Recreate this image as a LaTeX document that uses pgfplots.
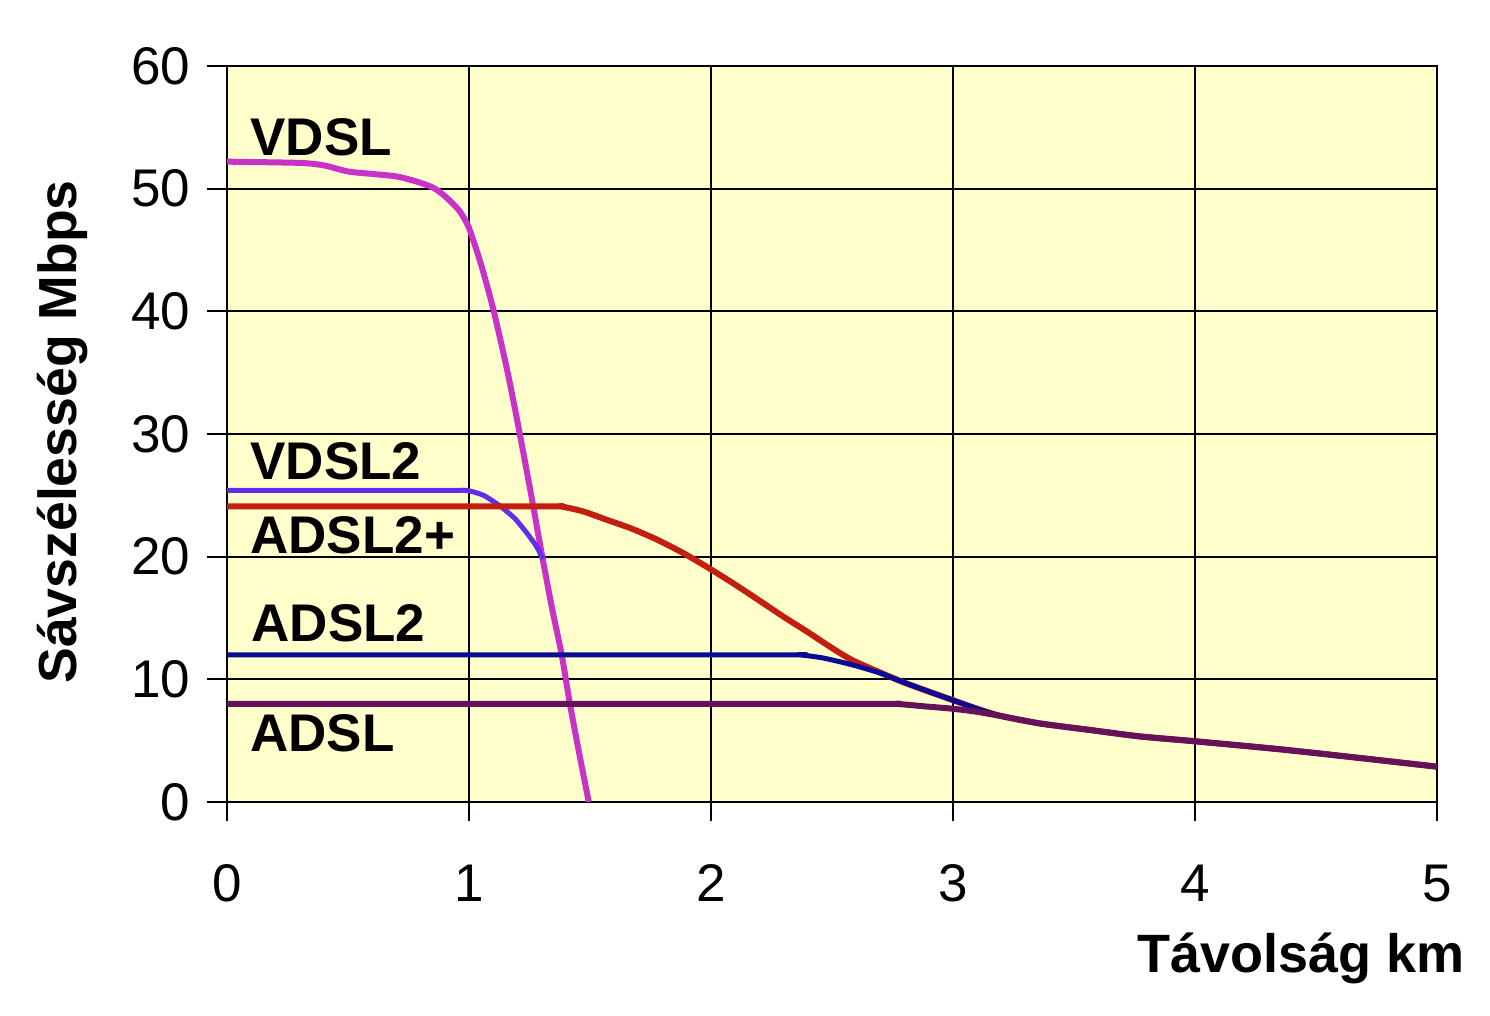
\documentclass[border=0pt]{standalone}
\usepackage{pgfplots}
\pgfplotsset{compat=1.18}
\usepackage{fontspec}
\setmainfont{Liberation Sans}
\definecolor{bgyellow}{RGB}{255,255,204}
\definecolor{cvdsl}{RGB}{200,50,200}
\definecolor{cvdsltwo}{RGB}{100,45,235}
\definecolor{cadsltwoplus}{RGB}{195,30,15}
\definecolor{cadsltwo}{RGB}{10,10,150}
\definecolor{cadsl}{RGB}{100,18,90}
\newcommand{\bigfont}{\fontsize{26.5}{30}\selectfont}
\begin{document}
\begin{tikzpicture}
\path[use as bounding box] (0,0) rectangle (745pt,508pt);
\begin{axis}[
  at={(113.5pt,107pt)}, anchor=south west,
  scale only axis, width=605pt, height=368pt,
  xmin=0, xmax=5, ymin=0, ymax=60,
  xtick={0,1,2,3,4,5}, ytick={0,10,20,30,40,50,60},
  tick pos=left, tick align=outside, major tick length=9.75pt,
  tick style={black, line width=1pt},
  grid=major, major grid style={black, line width=1pt},
  axis line style={black, line width=1pt},
  axis background/.style={fill=bgyellow},
  ticklabel style={font=\bigfont},
  /pgf/number format/assume math mode=true,
  xticklabel style={anchor=north, yshift=-18pt},
  yticklabel style={anchor=east, xshift=-5pt},
  every axis plot/.append style={line width=3pt, line join=round, line cap=butt},
]
\addplot[cvdsl, smooth, tension=0.4] coordinates {
(0,52.2) (0.3,52.1) (0.4,51.9) (0.5,51.4) (0.6,51.2) (0.7,51.0) (0.78,50.6)
(0.85,50.1) (0.9,49.4) (0.96,48.2) (1.0,46.8) (1.05,43.8) (1.10,40.2)
(1.16,35.0) (1.21,30.0) (1.26,24.7) (1.30,20.3) (1.342,15.9) (1.383,12.0)
(1.417,8.0) (1.455,4.0) (1.495,0)
};
\addplot[cvdsltwo, line width=2.5pt, smooth, tension=0.4] coordinates {
(0,25.4) (0.9,25.4) (0.99,25.4) (1.06,25.0) (1.13,24.1) (1.19,23.1)
(1.24,21.9) (1.28,20.8) (1.305,19.8)
};
\addplot[cadsltwoplus, smooth, tension=0.4] coordinates {
(0,24.1) (1.30,24.1) (1.376,24.1) (1.47,23.7) (1.57,23.0) (1.67,22.3)
(1.776,21.4) (1.88,20.35) (1.98,19.2) (2.09,17.85) (2.19,16.55) (2.30,15.1)
(2.40,13.85) (2.50,12.55) (2.58,11.6) (2.67,10.8) (2.79,9.8)
(2.9,9.0) (3.0,8.3) (3.1,7.6) (3.2,7.0) (3.36,6.4) (3.566,5.87)
(3.77,5.35) (4.0,4.95) (4.35,4.3) (4.63,3.7) (5.0,2.88)
};
\addplot[cadsltwo, line width=2.5pt, smooth, tension=0.4] coordinates {
(0,12.0) (2.25,12.0) (2.36,12.0) (2.46,11.75) (2.58,11.2)
(2.7,10.5) (2.79,9.8) (2.9,9.0) (3.0,8.3) (3.1,7.6) (3.2,7.0) (3.36,6.4)
(3.566,5.87) (3.77,5.35) (4.0,4.95) (4.35,4.3) (4.63,3.7) (5.0,2.88)
};
\addplot[cadsl, smooth, tension=0.4] coordinates {
(0,8.0) (2.6,8.0) (2.76,8.0) (2.88,7.8) (3.0,7.6) (3.1,7.35) (3.2,7.0)
(3.36,6.4) (3.566,5.87) (3.77,5.35) (4.0,4.95) (4.35,4.3) (4.63,3.7) (5.0,2.88)
};
\node[anchor=base west, font=\bfseries\bigfont, inner sep=0pt] at (axis cs:0.095,52.74) {VDSL};
\node[anchor=base west, font=\bfseries\bigfont, inner sep=0pt] at (axis cs:0.095,26.25) {VDSL2};
\node[anchor=base west, font=\bfseries\bigfont, inner sep=0pt] at (axis cs:0.095,20.27) {ADSL2+};
\node[anchor=base west, font=\bfseries\bigfont, inner sep=0pt] at (axis cs:0.1,13.07) {ADSL2};
\node[anchor=base west, font=\bfseries\bigfont, inner sep=0pt] at (axis cs:0.095,4.1) {ADSL};
\end{axis}
\node[anchor=base east, font=\bfseries\fontsize{27}{30}\selectfont, inner sep=0pt] at (732.5pt,21.5pt) {Távolság km};
\node[rotate=90, anchor=center, font=\bfseries\fontsize{26.8}{30}\selectfont, inner sep=0pt] at (31.5pt,292pt) {Sávszélesség Mbps};
\end{tikzpicture}
\end{document}
